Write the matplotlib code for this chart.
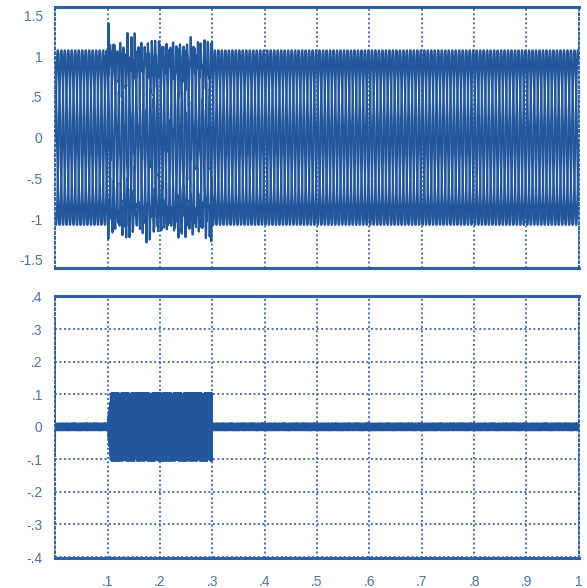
import numpy as np
import matplotlib.pyplot as plt
from matplotlib.ticker import FixedLocator, FixedFormatter

plt.rcParams['font.family'] = ['Liberation Sans', 'DejaVu Sans']

# --- values ---
t_span = [0.0, 1.0]                 # time axis (s)
event_on, event_off = 0.1, 0.3      # disturbance window (s)
f_main = 50.0                       # supply frequency (Hz)
phase_deg = [0, -120, 120]          # three phases
phase_amp = 1.07                    # steady amplitude, top panel
harm_order = [4.6, 7.3, 10.8, 13.4] # interharmonics injected during the event
harm_amp = [0.08, 0.07, 0.05, 0.04]
onset_peak = 1.40                   # first spike at switching in
offset_peak = -1.27                 # last dip at switching out
resid_amp = [0.011, 0.10, 0.011]    # bottom panel band: before / during / after
resid_freq = [1230.0, 1770.0, 2410.0]
start_kick = [0.33, -0.09, 0.12, -0.06]   # transient at t = 0, bottom panel

upper_ticks = [1.5, 1, 0.5, 0, -0.5, -1, -1.5]
upper_labels = ['1.5', '1', '.5', '0', '-.5', '-1', '-1.5']
lower_ticks = [0.4, 0.3, 0.2, 0.1, 0, -0.1, -0.2, -0.3, -0.4]
lower_labels = ['.4', '.3', '.2', '.1', '0', '-.1', '-.2', '-.3', '-.4']
x_ticks = [0.1, 0.2, 0.3, 0.4, 0.5, 0.6, 0.7, 0.8, 0.9, 1.0]
x_labels = ['.1', '.2', '.3', '.4', '.5', '.6', '.7', '.8', '.9', '1']

fs = 10000
t = np.arange(t_span[0], t_span[1], 1 / fs)
in_event = (t >= event_on) & (t < event_off)
w = 2 * np.pi * f_main

phases = []
for k, ph in enumerate(phase_deg):
    v = phase_amp * np.sin(w * t + np.deg2rad(ph))
    h = np.zeros_like(t)
    for n, a in zip(harm_order, harm_amp):
        h += a * np.sin(n * (w * t + np.deg2rad(ph)) + 0.9 * n + k)
    v = v + h * in_event
    phases.append(v)
i_on = np.searchsorted(t, event_on + 0.002)
i_off = np.searchsorted(t, event_off - 0.002)
phases[0][i_on] = onset_peak
phases[1][i_off] = offset_peak

# band of the bottom trace, with a short rise at switching in
ramp = np.clip((t - event_on) / 0.006, 0, 1)
amp = np.where(t < event_on, resid_amp[0],
               np.where(in_event, resid_amp[0] + (resid_amp[1] - resid_amp[0]) * ramp,
                        resid_amp[2]))
carrier = np.zeros_like(t)
for i, f in enumerate(resid_freq):
    carrier += np.sin(2 * np.pi * f * t + i)
carrier /= len(resid_freq) * 0.6
resid = amp * np.clip(carrier, -1.05, 1.05)
resid[:len(start_kick)] = start_kick

line_c = '#23579b'
grid_c = '#2f5fa8'
text_c = '#4a70a8'

fig = plt.figure(figsize=(5.87, 5.88), dpi=100)
ax1 = fig.add_axes([0.094, 0.544, 0.892, 0.444])
ax2 = fig.add_axes([0.094, 0.051, 0.892, 0.446])

for v in phases:
    ax1.plot(t, v, color=line_c, lw=1.6)
ax2.plot(t, resid, color=line_c, lw=1.0)

ax1.set_ylim(-1.6, 1.6)
ax2.set_ylim(-0.403, 0.403)
ax1.yaxis.set_major_locator(FixedLocator(upper_ticks))
ax1.yaxis.set_major_formatter(FixedFormatter(upper_labels))
ax2.yaxis.set_major_locator(FixedLocator(lower_ticks))
ax2.yaxis.set_major_formatter(FixedFormatter(lower_labels))

for ax in (ax1, ax2):
    ax.set_xlim(0, 1)
    ax.xaxis.set_major_locator(FixedLocator(x_ticks))
    ax.tick_params(length=0, labelsize=10, labelcolor=text_c, pad=9)
    for s in ('top', 'bottom'):
        ax.spines[s].set_color(grid_c)
        ax.spines[s].set_linewidth(2.2)
    for s in ('left', 'right'):
        ax.spines[s].set_color(grid_c)
        ax.spines[s].set_linewidth(1.4)
        ax.spines[s].set_linestyle((0, (1, 1.5)))
    ax.grid(True, axis='x', color=grid_c, lw=1.3, ls=(0, (1, 1.5)))

ax2.grid(True, axis='y', color=grid_c, lw=1.3, ls=(0, (1, 1.5)))
ax1.set_xticklabels([])
ax2.xaxis.set_major_formatter(FixedFormatter(x_labels))
ax2.tick_params(axis='x', pad=12)

fig.savefig('out.png', dpi=100)
